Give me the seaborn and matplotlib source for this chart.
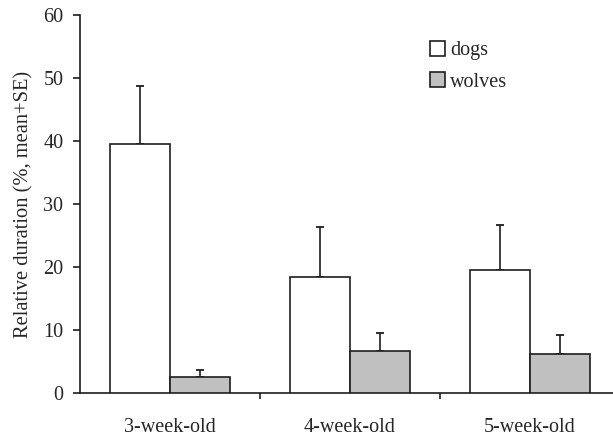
import matplotlib
matplotlib.use("Agg")
import matplotlib.pyplot as plt
import seaborn as sns
import pandas as pd
import numpy as np

# Data
ages = ["3-week-old", "4-week-old", "5-week-old"]
groups = ["dogs", "wolves"]
dogs_mean = [39.5, 18.4, 19.6]
dogs_se = [9.3, 7.9, 7.0]
wolves_mean = [2.5, 6.6, 6.2]
wolves_se = [1.2, 3.0, 3.0]
y_ticks = [0, 10, 20, 30, 40, 50, 60]

df = pd.DataFrame({
    "age": ages * 2,
    "group": ["dogs"] * 3 + ["wolves"] * 3,
    "value": dogs_mean + wolves_mean,
})
se_map = {("dogs", a): s for a, s in zip(ages, dogs_se)}
se_map.update({("wolves", a): s for a, s in zip(ages, wolves_se)})

sns.set_style("white")
plt.rcParams["font.family"] = ["Liberation Serif", "DejaVu Serif"]
plt.rcParams["font.size"] = 14.5

W, H = 613, 440
fig = plt.figure(figsize=(W / 100, H / 100), dpi=100)
ax = fig.add_axes([80 / W, 1 - 393 / H, 533 / W, (393 - 15) / H])

ink = "#1e1e1e"
sns.barplot(data=df, x="age", y="value", hue="group", order=ages, hue_order=groups,
            palette={"dogs": "white", "wolves": "#c0c0c0"}, width=0.667,
            edgecolor=ink, linewidth=1.2, errorbar=None, ax=ax, zorder=3)

# error bars (upper only), positioned from the drawn bars
for container, g in zip(ax.containers, groups):
    for patch, a in zip(container.patches, ages):
        xc = patch.get_x() + patch.get_width() / 2
        top = patch.get_height()
        ax.errorbar([xc], [top], yerr=[[0], [se_map[(g, a)]]], fmt="none",
                    ecolor=ink, elinewidth=1.2, capsize=2.8, capthick=1.3, zorder=2)

ax.set_ylim(0, 60)
ax.set_xlim(-0.5, 2.461)
ax.set_yticks(y_ticks)
ax.set_xlabel("")
ax.set_ylabel("Relative duration (%, mean+SE)", fontsize=14.8)
ax.yaxis.set_label_coords(-0.088, 0.5)

for s in ["top", "right"]:
    ax.spines[s].set_visible(False)
for s in ["left", "bottom"]:
    ax.spines[s].set_color(ink)
    ax.spines[s].set_linewidth(1.2)

ax.tick_params(axis="y", direction="out", length=5, width=1.2, color=ink, pad=7,
               labelsize=14.5, left=True)
ax.tick_params(axis="x", which="major", length=0, pad=18, labelsize=14.5)
ax.set_xticks([0.5, 1.5], minor=True)
ax.tick_params(axis="x", which="minor", direction="out", length=4.5, width=1.2,
               color=ink, bottom=True)

ax.legend(loc="upper left", bbox_to_anchor=(430 / W, 1 - 41 / H),
          bbox_transform=fig.transFigure, frameon=False, borderpad=0,
          borderaxespad=0, handlelength=0.75, handleheight=0.75,
          handletextpad=0.25, labelspacing=0.6, fontsize=14.5)

fig.savefig("out.png", dpi=100, facecolor="white")
